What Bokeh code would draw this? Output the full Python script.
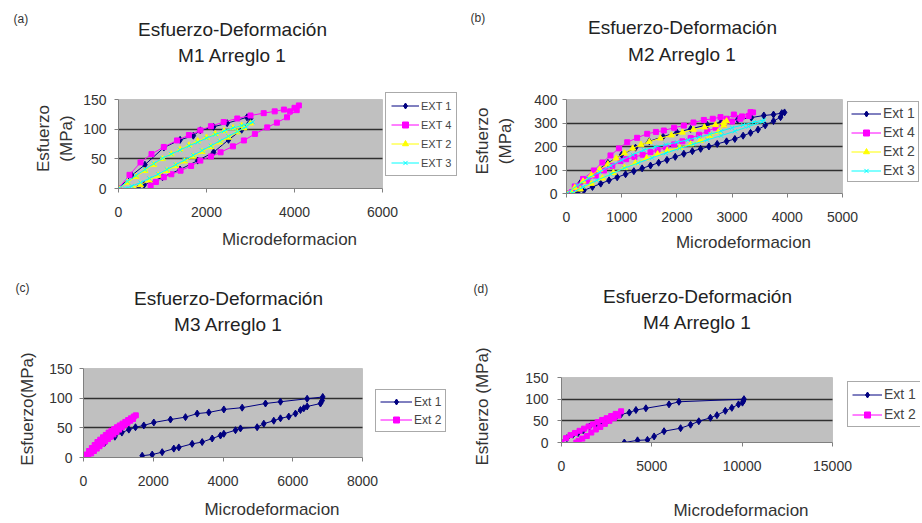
from bokeh.plotting import figure
from bokeh.models import Range1d, FixedTicker, Legend, LegendItem, BoxAnnotation
from bokeh.layouts import column, row
from bokeh.core.properties import value
from bokeh.embed import file_html
from bokeh.resources import INLINE

FONT = "Liberation Sans"
TITLE1 = "Esfuerzo-Deformación"
XLABEL = "Microdeformacion"

# ---------------- Panel (a): M1 Arreglo 1 ----------------
a_ext1_x = [0, 300, 600, 1030, 1400, 1700, 1860, 2160, 2470, 2920, 3000, 2800, 2500, 2160, 1800, 1400, 1000, 580, 450]
a_ext1_y = [0, 22, 40, 69, 82, 89, 98, 104, 110, 120, 118, 99, 82, 61, 47, 32, 19, 6, 0]
a_ext4_x = [0, 250, 500, 750, 1030, 1330, 1600, 1860, 2100, 2390, 2700, 3000, 3300, 3550, 3760, 3900, 4000, 4100,
            4050, 3830, 3600, 3380, 3100, 2850, 2600, 2320, 2100, 1860, 1650, 1410, 1200, 1030, 850, 730]
a_ext4_y = [0, 23, 44, 58, 70, 81, 90, 98, 105, 112, 118, 123, 127, 130, 133, 130, 136, 140,
            132, 120, 111, 103, 92, 81, 71, 61, 54, 47, 38, 30, 24, 19, 11, 5]
a_ext2_x = [0, 200, 400, 600, 800, 1000, 1200, 1400, 1600, 1800, 2000, 2200, 2400, 2600, 2800, 3000,
            2850, 2700, 2500, 2300, 2100, 1900, 1700, 1500, 1300, 1100, 900, 700, 500, 350]
a_ext2_y = [0, 10, 20, 30, 40, 50, 58, 66, 73, 80, 86, 92, 97, 102, 106, 110,
            102, 95, 86, 78, 70, 62, 54, 46, 38, 30, 22, 14, 6, 0]
a_ext3_x = [0, 200, 400, 600, 800, 1000, 1200, 1400, 1600, 1800, 2000, 2200, 2400, 2600, 2800, 3050,
            2900, 2700, 2500, 2300, 2100, 1900, 1700, 1500, 1300, 1100, 900, 700, 500, 300, 150]
a_ext3_y = [0, 12, 22, 32, 42, 51, 58, 65, 72, 78, 85, 91, 97, 102, 106, 112,
            104, 96, 88, 80, 72, 64, 56, 48, 40, 32, 24, 17, 10, 4, 0]
a_xticks = [0, 2000, 4000, 6000]
a_yticks = [0, 50, 100, 150]

# ---------------- Panel (b): M2 Arreglo 1 ----------------
b_ext1_x = [0, 250, 500, 750, 1000, 1250, 1500, 1750, 2000, 2250, 2550, 2800, 3100, 3350, 3575, 3750, 3900,
            3950, 3878, 3750, 3600, 3470, 3334, 3200, 3050, 2900, 2730, 2580, 2430, 2280, 2126, 1970, 1820,
            1670, 1522, 1370, 1220, 1070, 918, 770, 620, 470, 314, 200]
b_ext1_y = [0, 45, 90, 130, 165, 195, 222, 242, 260, 275, 292, 303, 314, 323, 332, 336, 342,
            345, 325, 308, 290, 272, 258, 246, 232, 222, 211, 200, 190, 180, 169, 156, 143,
            131, 119, 107, 95, 82, 69, 56, 42, 28, 13, 3]
b_ext4_x = [0, 150, 300, 495, 650, 797, 950, 1100, 1280, 1462, 1620, 1763, 1950, 2126, 2300, 2488, 2650,
            2790, 2900, 3032, 3180, 3334, 3380,
            3300, 3150, 3000, 2850, 2700, 2550, 2400, 2250, 2100, 1950, 1800, 1650, 1522, 1380, 1230, 1080,
            978, 830, 680, 530, 380, 230, 100]
b_ext4_y = [0, 30, 62, 98, 132, 162, 192, 218, 237, 254, 262, 268, 280, 289, 302, 313, 318,
            325, 318, 336, 328, 346, 345,
            330, 318, 306, 294, 280, 265, 250, 236, 222, 209, 196, 185, 176, 165, 155, 146,
            138, 118, 98, 76, 54, 30, 6]
b_ext2_x = [0, 150, 300, 450, 600, 750, 900, 1050, 1200, 1350, 1500, 1700, 1900, 2100, 2300, 2500, 2700,
            2850, 2900,
            2850, 2750, 2600, 2428, 2250, 2050, 1824, 1650, 1450, 1250, 1050, 850, 650, 450, 250, 100]
b_ext2_y = [0, 25, 52, 78, 102, 125, 150, 172, 192, 208, 220, 235, 248, 260, 272, 282, 292,
            300, 308,
            290, 262, 245, 225, 210, 195, 183, 168, 150, 130, 110, 88, 65, 42, 18, 0]
b_ext3_x = [0, 200, 400, 600, 800, 1000, 1200, 1400, 1600, 1800, 2000, 2200, 2400, 2600, 2800, 3000,
            3200, 3400, 3575,
            3550, 3300, 3050, 2800, 2550, 2300, 2050, 1800, 1550, 1300, 1050, 800, 550, 300, 100]
b_ext3_y = [0, 35, 65, 92, 118, 142, 165, 185, 198, 208, 218, 228, 240, 252, 265, 280,
            292, 304, 313,
            305, 285, 265, 246, 228, 210, 192, 172, 152, 130, 108, 82, 56, 28, 2]
b_xticks = [0, 1000, 2000, 3000, 4000, 5000]
b_yticks = [0, 100, 200, 300, 400]

# ---------------- Panel (c): M3 Arreglo 1 ----------------
c_ext1_x = [0, 300, 600, 900, 1100, 1300, 1491, 1729, 2016, 2494, 2924, 3260, 3594, 4024, 4550, 5218,
            5648, 6413, 6860,
            6843, 6795, 6413, 6317, 6221, 6078, 5886, 5648, 5456, 5170, 4979, 4501, 4358, 4024, 3928,
            3690, 3403, 3116, 2733, 2590, 2256, 1970, 1683]
c_ext1_y = [0, 12, 24, 35, 42, 47, 51, 54, 59, 64, 68, 74, 76, 81, 84, 91,
            94, 99, 102,
            96, 91, 86, 83, 80, 74, 69, 66, 62, 57, 51, 49, 46, 40, 37,
            32, 26, 23, 17, 15, 9, 5, 3]
c_ext2_x = [0, 80, 160, 240, 320, 400, 480, 560, 640, 720, 800, 880, 960, 1040, 1120, 1200, 1280, 1360,
            1440, 1500, 1420, 1340, 1260, 1180, 1100, 1020, 940, 860, 780, 700, 620, 540, 460, 380,
            300, 220, 140, 60]
c_ext2_y = [0, 5, 11, 16, 21, 26, 30, 34, 38, 42, 45, 48, 51, 54, 57, 60, 63, 66,
            69, 71, 65, 62, 58, 55, 51, 47, 43, 39, 35, 31, 27, 23, 19, 15,
            11, 7, 3, 0]
c_xticks = [0, 2000, 4000, 6000, 8000]
c_yticks = [0, 50, 100, 150]

# ---------------- Panel (d): M4 Arreglo 1 ----------------
d_ext1_x = [0, 300, 637, 920, 1200, 1555, 1900, 2198, 2600, 3000, 3300, 3753, 4121, 4670, 5951, 6500,
            10100, 10071, 10016, 9797, 9429, 9066, 8604, 8242, 7599, 7143, 6593, 5676, 5126, 4758,
            4209, 3478]
d_ext1_y = [0, 10, 18, 22, 28, 37, 41, 45, 52, 58, 65, 69, 75, 79, 88, 94,
            100, 96, 92, 88, 80, 73, 63, 57, 49, 41, 33, 26, 14, 6,
            5, 0]
d_ext2_x = [0, 250, 500, 750, 1000, 1250, 1500, 1750, 2000, 2250, 2500, 2750, 3000, 3300,
            3150, 2900, 2650, 2400, 2150, 1900, 1650, 1400, 1150, 950, 820]
d_ext2_y = [0, 10, 17, 22, 27, 32, 37, 42, 47, 52, 56, 61, 66, 72,
            62, 56, 50, 43, 36, 30, 23, 15, 9, 4, 0]
d_xticks = [0, 5000, 10000, 15000]
d_yticks = [0, 50, 100, 150]

NAVY, MAGENTA, YELLOW, CYAN = "#000080", "#FF00FF", "#FFFF00", "#00FFFF"
W = 460


def header(height, letter, letter_pos, title2, title_pos):
    h = figure(width=W, height=height, x_range=Range1d(0, W), y_range=Range1d(height, 0),
               x_axis_type=None, y_axis_type=None, output_backend="svg", toolbar_location=None,
               min_border_left=0, min_border_right=0, min_border_top=0, min_border_bottom=0)
    h.outline_line_color = None
    h.grid.visible = False
    h.background_fill_color = "white"
    h.border_fill_color = "white"
    tx, ty1, ty2 = title_pos
    h.text(x=[tx, tx], y=[ty1, ty2], text=[TITLE1, title2], text_align="center", text_baseline="middle",
           text_font=value(FONT), text_font_size=value("19px"), text_color="#222222")
    h.text(x=[letter_pos[0]], y=[letter_pos[1]], text=[letter], text_align="left", text_baseline="middle",
           text_font=value(FONT), text_font_size=value("12px"), text_color="#333333")
    return h


def draw(p, x, y, color, marker, size):
    ln = p.line(x, y, line_color=color, line_width=1)
    sc = p.scatter(x, y, marker=marker, size=size, fill_color=color, line_color=color)
    return [ln, sc]


def make_panel(height, fig_left, fig_top, gray, frame_top, xr, xt, yr, yt, ylabel,
               ylab_standoff, ytick_standoff, xlab_standoff, series,
               leg_loc, leg_font, leg_glyph_w, leg_pad, leg_spacing):
    gl, gr, gt, gb = gray                       # plot-area edges, in page pixels
    border_left = gl - fig_left
    border_top = frame_top - (fig_top)
    border_bottom = fig_top + height - gb
    frame_w = W - border_left
    frame_h = gb - frame_top
    x_end = xr[0] + (xr[1] - xr[0]) * frame_w / (gr - gl)
    y_end = yr[0] + (yr[1] - yr[0]) * frame_h / (gb - gt)
    p = figure(width=W, height=height, x_range=Range1d(xr[0], x_end), y_range=Range1d(yr[0], y_end),
               output_backend="svg", toolbar_location=None,
               min_border_left=border_left, min_border_right=0,
               min_border_top=border_top, min_border_bottom=border_bottom)
    p.background_fill_color = "white"
    p.border_fill_color = "white"
    p.outline_line_color = None
    p.add_layout(BoxAnnotation(left=xr[0], right=xr[1], bottom=yr[0], top=yr[1],
                               fill_color="#C0C0C0", fill_alpha=1.0, line_color="#808080",
                               line_width=1, level="image"))
    p.xgrid.visible = False
    grid = p.ygrid[0]
    grid.ticker = FixedTicker(ticks=yt[1:-1])
    grid.grid_line_color = "#303030"
    grid.grid_line_width = 1.5
    if "cross_bounds" in grid.properties():
        grid.cross_bounds = (xr[0], xr[1])
    else:
        grid.visible = False
        inner = yt[1:-1]
        p.segment(x0=[xr[0]] * len(inner), y0=inner, x1=[xr[1]] * len(inner), y1=inner,
                  line_color="#303030", line_width=1.5)
    p.xaxis.ticker = FixedTicker(ticks=xt)
    p.yaxis.ticker = FixedTicker(ticks=yt)
    p.xaxis.bounds = (xr[0], xr[1])
    p.yaxis.bounds = (yr[0], yr[1])
    for ax in (p.xaxis[0], p.yaxis[0]):
        ax.axis_line_color = "#808080"
        ax.major_tick_line_color = "#808080"
        ax.major_tick_out = 4
        ax.major_tick_in = 0
        ax.minor_tick_line_color = None
        ax.major_label_text_font = FONT
        ax.major_label_text_font_size = "14px"
        ax.major_label_text_color = "#333333"
        ax.axis_label_text_font = FONT
        ax.axis_label_text_font_size = "17px"
        ax.axis_label_text_font_style = "normal"
        ax.axis_label_text_color = "#333333"
    p.xaxis.major_label_standoff = 14
    p.yaxis.major_label_standoff = ytick_standoff
    p.xaxis.axis_label = XLABEL
    p.yaxis.axis_label = ylabel
    p.xaxis.axis_label_standoff = xlab_standoff
    p.yaxis.axis_label_standoff = ylab_standoff

    items = []
    for label, x, y, color, marker, size in series:
        items.append(LegendItem(label=label, renderers=draw(p, x, y, color, marker, size)))
    leg = Legend(items=items, location=leg_loc, orientation="vertical",
                 label_text_font=FONT, label_text_font_size=leg_font, label_text_color="#444444",
                 glyph_width=leg_glyph_w, glyph_height=15, label_height=15, label_standoff=2,
                 padding=leg_pad, spacing=leg_spacing, margin=0,
                 border_line_color="#555555", border_line_width=1,
                 background_fill_color="white", background_fill_alpha=1.0)
    p.add_layout(leg)
    return p


TOP_H, BOT_H, ROW_H = 70, 75, 261

ha = header(TOP_H, "(a)", (13, 18), "M1 Arreglo 1", (232, 29, 55))
pa = make_panel(ROW_H - TOP_H, 0, TOP_H, (118, 382, 99, 188), 88, (0, 6000), a_xticks, (0, 150), a_yticks,
                "Esfuerzo\n(MPa)", 4, 8, 10,
                [("EXT 1", a_ext1_x, a_ext1_y, NAVY, "diamond", 7),
                 ("EXT 4", a_ext4_x, a_ext4_y, MAGENTA, "square", 5),
                 ("EXT 2", a_ext2_x, a_ext2_y, YELLOW, "triangle", 6),
                 ("EXT 3", a_ext3_x, a_ext3_y, CYAN, "x", 6)],
                (267, 12), "11px", 28, 5, 4)

hb = header(TOP_H, "(b)", (10, 17), "M2 Arreglo 1", (222, 27, 54))
pb = make_panel(ROW_H - TOP_H, W, TOP_H, (566, 842, 99, 193), 88, (0, 5000), b_xticks, (0, 400), b_yticks,
                "Esfuerzo\n(MPa)", 16, 5, 8,
                [("Ext 1", b_ext1_x, b_ext1_y, NAVY, "diamond", 7),
                 ("Ext 4", b_ext4_x, b_ext4_y, MAGENTA, "square", 5),
                 ("Ext 2", b_ext2_x, b_ext2_y, YELLOW, "triangle", 6),
                 ("Ext 3", b_ext3_x, b_ext3_y, CYAN, "x", 6)],
                (281, 11), "14px", 30, 3, 3)

hc = header(BOT_H, "(c)", (15, 26), "M3 Arreglo 1", (228, 37, 63))
pc = make_panel(ROW_H - BOT_H, 0, ROW_H + BOT_H, (83, 362, 368, 457), 360, (0, 8000), c_xticks, (0, 150), c_yticks,
                "Esfuerzo(MPa)", 9, 7, 11,
                [("Ext 1", c_ext1_x, c_ext1_y, NAVY, "diamond", 7),
                 ("Ext 2", c_ext2_x, c_ext2_y, MAGENTA, "square", 5)],
                (292, 25), "12px", 32, 4, 3)

hd = header(BOT_H, "(d)", (13, 27), "M4 Arreglo 1", (237, 35, 61))
pd_ = make_panel(ROW_H - BOT_H, W, ROW_H + BOT_H, (561, 832, 377, 442), 370, (0, 15000), d_xticks, (0, 150), d_yticks,
                 "Esfuerzo (MPa)", 30, 9, 27,
                 [("Ext 1", d_ext1_x, d_ext1_y, NAVY, "diamond", 7),
                  ("Ext 2", d_ext2_x, d_ext2_y, MAGENTA, "square", 5)],
                 (286, 15), "14px", 30, 4, 4)


def cell(h, p):
    return column(row(h), row(p))


layout = column(row(cell(ha, pa), cell(hb, pb)), row(cell(hc, pc), cell(hd, pd_)))
open("out.html", "w").write(file_html(layout, INLINE))
